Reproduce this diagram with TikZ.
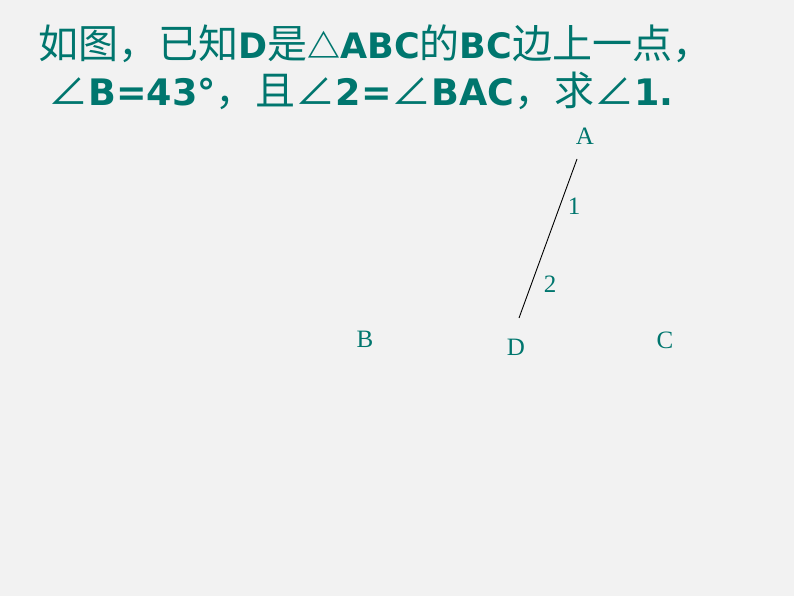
\documentclass[tikz,border=0pt]{standalone}
\usepackage{fontspec}
\setmainfont{DejaVu Sans}
\newfontfamily\cjk{Noto Sans CJK SC}
\newfontfamily\lblfont{Liberation Serif}
\definecolor{teal}{RGB}{0,118,110}
\definecolor{bg}{RGB}{242,242,242}
\newcommand{\zh}[1]{{\fontsize{40}{40}\cjk\mdseries #1}}
\newcommand{\tri}{{\fontsize{33}{33}\cjk\bfseries △}}

\begin{document}
\begin{tikzpicture}[x=1pt,y=-1pt,
    title/.style={anchor=base west,inner sep=0pt,text=teal,font=\fontsize{35}{35}\selectfont\bfseries},
    lbl/.style={text=teal,inner sep=0pt,font=\fontsize{25}{25}\lblfont}]
        \fill[bg] (0,0) rectangle (794,596);
        \useasboundingbox (0,0) rectangle (794,596);
        \node[title] (line1) at (38,59) {\zh{如图，已知}D\zh{是}\tri ABC\zh{的}BC\zh{边上一点，}};
        \node[title,font=\fontsize{36.5}{36.5}\selectfont\bfseries] (line2) at (48,106) {\zh{∠}B=43°\zh{，且}\zh{∠}2=\zh{∠}BAC\zh{，求}\zh{∠}1.};
        \foreach \p/\x/\y in {A/585/136,B/365/339,C/665/340,D/516/347,1/574/206,2/550/284}
        {\node[lbl] (n\p) at (\x,\y) {\p};}
        \coordinate (Aend) at (577,159);
        \coordinate (Dend) at (519,318);
        \draw[line width=0.9pt] (Aend) -- (Dend);
\end{tikzpicture}
\end{document}
